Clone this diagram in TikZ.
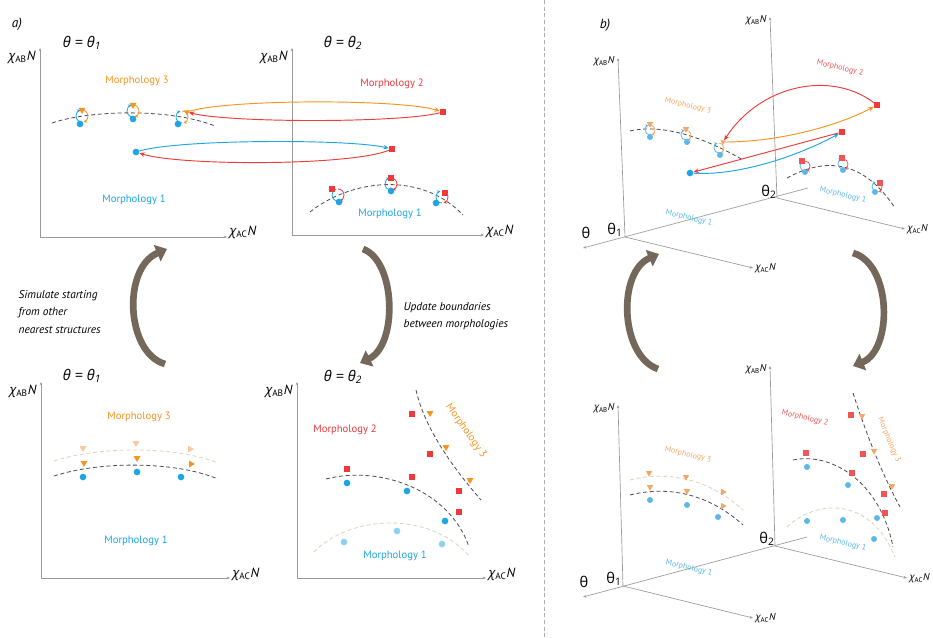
\documentclass[tikz,border=0pt]{standalone}
\usepackage{fontspec}
\setmainfont{PT Sans}
\newfontfamily\grk{Open Sans}
\usetikzlibrary{arrows.meta,shapes.geometric}

\definecolor{mblue}{HTML}{1DA5E5}
\definecolor{morange}{HTML}{F7931E}
\definecolor{mred}{HTML}{EE3A3A}
\definecolor{lblue}{HTML}{8ED2F2}
\definecolor{lorange}{HTML}{FAC89C}
\definecolor{beige}{HTML}{DCD3BE}
\definecolor{fblue}{HTML}{5CB8E8}
\definecolor{forange}{HTML}{F6A765}
\definecolor{fred}{HTML}{EF5555}
\definecolor{cyclebrown}{HTML}{74685A}
\definecolor{axisgray}{HTML}{9A9A9A}

\newcommand{\chiab}{{\grk\itshape χ}\textsubscript{AB}{\itshape N}}
\newcommand{\chiac}{{\grk\itshape χ}\textsubscript{AC}{\itshape N}}
% little exchange loop: centre x, centre y, radius, left colour, right colour
\newcommand{\swaploop}[5]{%
  \draw[#4, looparr] (#1,#2) ++(0,#3) arc[start angle=90, end angle=255, radius=#3];
  \draw[#5, looparr] (#1,#2) ++(0,-#3) arc[start angle=270, end angle=435, radius=#3];}

\begin{document}
\begin{tikzpicture}[x=0.75pt, y=-0.75pt,
      axis/.style={draw=axisgray, line width=0.5pt, -{Stealth[length=2.5pt,width=2pt]}},
      bound/.style={draw=black!70, dash pattern=on 3pt off 2pt, line width=0.6pt},
      ghost/.style={draw=beige, dash pattern=on 3pt off 2pt, line width=0.6pt},
      looparr/.style={line width=0.6pt, -{Stealth[length=2.5pt,width=2.5pt]}},
      arr/.style={line width=0.7pt, -{Stealth[length=4pt,width=3.5pt]}},
      cycle/.style={draw=cyclebrown, line width=5pt, -{Triangle[length=8pt,width=13pt]}},
      dotB/.style={circle, fill=mblue, inner sep=0pt, minimum size=5pt},
      dotL/.style={dotB, fill=lblue},
      dotF/.style={dotB, fill=fblue, minimum size=4.5pt},
      sqR/.style={rectangle, fill=mred, inner sep=0pt, minimum size=4.5pt},
      sqF/.style={sqR, fill=fred, minimum size=4pt},
      triO/.style={regular polygon, regular polygon sides=3, shape border rotate=180,
                   fill=morange, inner sep=0pt, minimum size=6pt},
      triL/.style={triO, fill=lorange},
      triF/.style={triO, fill=forange, minimum size=5.5pt},
      axlab/.style={font=\fontsize{10}{12}\selectfont, inner sep=1pt},
      axlabb/.style={font=\fontsize{7.5}{9}\selectfont, inner sep=1pt},
      thlab/.style={font=\grk\itshape\fontsize{11}{13}\selectfont},
      thlabb/.style={font=\grk\fontsize{11}{13}\selectfont, inner sep=1pt},
      m1/.style={font=\fontsize{8}{9}\selectfont, text=mblue},
      m2/.style={font=\fontsize{8}{9}\selectfont, text=mred},
      m3/.style={font=\fontsize{8}{9}\selectfont, text=morange},
      m1b/.style={font=\fontsize{6}{7}\selectfont, text=fblue},
      m2b/.style={font=\fontsize{6}{7}\selectfont, text=fred},
      m3b/.style={font=\fontsize{6}{7}\selectfont, text=forange},
      note/.style={font=\itshape\fontsize{8.5}{13}\selectfont, align=left}]

  \useasboundingbox (0,0) rectangle (933,638);
  \fill[white] (0,0) rectangle (933,638);

  % separator between a) and b)
  \draw[axisgray!80, dash pattern=on 3pt off 2pt] (544,0) -- (544,638);

  % ---------------- a) ----------------
  \node[font=\itshape\fontsize{10}{12}\selectfont] (labA) at (17,24) {a)};

  % top left plot, theta = theta_1
  \coordinate (oTL) at (40,237);
  \draw[axis] (oTL) -- (40,48);
  \draw[axis] (oTL) -- (227,237);
  \node[axlab, anchor=east] (yTL) at (37,57) {\chiab};
  \node[axlab, anchor=west] (xTL) at (228,232) {\chiac};
  \node[thlab] (thTL) at (82,43) {θ = θ\textsubscript{1}};
  \node[m3] (m3TL) at (137,81) {Morphology 3};
  \node[m1] (m1TL) at (134,200) {Morphology 1};
  \draw[bound] (52,123) .. controls (90,110) and (170,108) .. (215,126);
  \swaploop{82}{116}{6}{mblue}{morange}
  \swaploop{133}{111}{6}{mblue}{morange}
  \swaploop{182}{117}{6}{mblue}{morange}
  \node[dotB] (tl1) at (80,124) {};
  \node[dotB] (tl2) at (133,119) {};
  \node[dotB] (tl3) at (178,124) {};
  \node[triO] (tlt1) at (82,110) {};
  \node[triO] (tlt2) at (133,105) {};
  \node[triO, minimum size=5pt] (tlt3) at (187,112) {};

  % top right plot, theta = theta_2
  \coordinate (oTR) at (292,235);
  \draw[axis] (oTR) -- (292,48);
  \draw[axis] (oTR) -- (484,235);
  \node[axlab, anchor=east] (yTR) at (289,57) {\chiab};
  \node[axlab, anchor=west] (xTR) at (485,231) {\chiac};
  \node[thlab] (thTR) at (343,43) {θ = θ\textsubscript{2}};
  \node[m2] (m2TR) at (392,84) {Morphology 2};
  \node[m1] (m1TR) at (390,214) {Morphology 1};
  \draw[bound] (310,212) .. controls (350,180) and (420,170) .. (463,215);
  \swaploop{338}{195}{6}{mblue}{mred}
  \swaploop{391}{184}{6}{mblue}{mred}
  \swaploop{442}{197}{6}{mblue}{mred}
  \node[dotB] (tr1) at (339,202) {};
  \node[dotB] (tr2) at (391,191) {};
  \node[dotB] (tr3) at (436,203) {};
  \node[sqR] (trs1) at (332,189) {};
  \node[sqR] (trs2) at (391,178) {};
  \node[sqR] (trs3) at (445,193) {};

  % jumps between the two theta values
  \node[sqR] (sqA) at (443,112) {};
  \node[dotB] (dA) at (136,152) {};
  \node[sqR] (sqB) at (392,149) {};
  \draw[morange, arr] (tlt3) .. controls (230,99) and (400,99) .. (sqA);
  \draw[mred, arr] (sqA) .. controls (400,123) and (230,123) .. (tlt3);
  \draw[mblue, arr] (dA) .. controls (180,139) and (350,139) .. (sqB);
  \draw[mred, arr] (sqB) .. controls (350,166) and (180,166) .. (dA);

  % cycle arrows
  \draw[cycle] (165,364) .. controls (126,353) and (122,268) .. (167,249);
  \draw[cycle] (363,249) .. controls (396,261) and (398,345) .. (360,363);
  \node[note, anchor=west] (simtxt) at (14,312) {Simulate starting\\from other\\nearest structures};
  \node[note, anchor=west] (updtxt) at (399,316) {Update boundaries\\between morphologies};

  % bottom left plot
  \coordinate (oBL) at (41,578);
  \draw[axis] (oBL) -- (41,382);
  \draw[axis] (oBL) -- (230,578);
  \node[axlab, anchor=east] (yBL) at (38,391) {\chiab};
  \node[axlab, anchor=west] (xBL) at (231,574) {\chiac};
  \node[thlab] (thBL) at (82,376) {θ = θ\textsubscript{1}};
  \node[m3] (m3BL) at (139,417) {Morphology 3};
  \node[m1] (m1BL) at (136,541) {Morphology 1};
  \draw[ghost] (54,461) .. controls (100,446) and (175,446) .. (218,463);
  \draw[bound] (54,476) .. controls (100,461) and (175,461) .. (218,479);
  \node[triL] (blu1) at (83,448) {};
  \node[triL] (blu2) at (136,443) {};
  \node[triL, shape border rotate=-90] (blu3) at (190,449) {};
  \node[triO] (blt1) at (84,463) {};
  \node[triO] (blt2) at (137,458) {};
  \node[triO, shape border rotate=-90] (blt3) at (191,464) {};
  \node[dotB] (bl1) at (83,477) {};
  \node[dotB] (bl2) at (137,472) {};
  \node[dotB] (bl3) at (181,477) {};

  % bottom right plot
  \coordinate (oBR) at (297,578);
  \draw[axis] (oBR) -- (297,382);
  \draw[axis] (oBR) -- (486,578);
  \node[axlab, anchor=east] (yBR) at (294,391) {\chiab};
  \node[axlab, anchor=west] (xBR) at (487,574) {\chiac};
  \node[thlab] (thBR) at (343,377) {θ = θ\textsubscript{2}};
  \node[m2] (m2BR) at (345,430) {Morphology 2};
  \node[m3, rotate=-55] (m3BR) at (466,431) {Morphology 3};
  \node[m1] (m1BR) at (395,556) {Morphology 1};
  \draw[bound] (416,390) .. controls (425,430) and (455,470) .. (481,500);
  \draw[bound] (326,479) .. controls (380,465) and (450,490) .. (469,547);
  \draw[ghost] (314,552) .. controls (350,515) and (430,510) .. (470,557);
  \node[sqR] (brs1) at (412,414) {};
  \node[sqR] (brs2) at (430,454) {};
  \node[sqR] (brs3) at (347,469) {};
  \node[sqR] (brs4) at (412,477) {};
  \node[sqR] (brs5) at (459,491) {};
  \node[sqR] (brs6) at (459,512) {};
  \node[triO] (brt1) at (430,413) {};
  \node[triO] (brt2) at (446,447) {};
  \node[triO] (brt3) at (470,480) {};
  \node[dotB] (br1) at (347,483) {};
  \node[dotB] (br2) at (407,491) {};
  \node[dotB] (br3) at (445,521) {};
  \node[dotL] (brl1) at (344,542) {};
  \node[dotL] (brl2) at (397,531) {};
  \node[dotL] (brl3) at (442,544) {};

  % ---------------- b) ----------------
  \node[font=\itshape\fontsize{10}{12}\selectfont] (labB) at (605,25) {b)};

  % top: both theta planes
  \coordinate (fO) at (625,237);
  \coordinate (bO) at (777,198);
  \draw[axis] (808,188) -- (583,248);
  \draw[axis] (fO) -- (618,58);
  \draw[axis] (fO) -- (753,268);
  \draw[axis] (bO) -- (770,17);
  \draw[axis] (bO) -- (905,229);
  \node[axlabb, anchor=east] (yF) at (616,61) {\chiab};
  \node[axlabb, anchor=west] (xF) at (754,268) {\chiac};
  \node[axlabb, anchor=east] (yB) at (768,20) {\chiab};
  \node[axlabb, anchor=west] (xB) at (906,229) {\chiac};
  \node[thlabb] (thF) at (586,233) {θ};
  \node[thlabb] (th1F) at (615,230) {θ\textsubscript{1}};
  \node[thlabb] (th2B) at (769,192) {θ\textsubscript{2}};
  \node[m2b, rotate=-13] (m2bT) at (840,68) {Morphology 2};
  \node[m3b, rotate=-13] (m3bT) at (688,106) {Morphology 3};
  \node[m1b, rotate=-13] (m1bTf) at (689,218) {Morphology 1};
  \node[m1b, rotate=-13] (m1bTb) at (843,195) {Morphology 1};
  \draw[bound] (630,131) .. controls (660,124) and (700,135) .. (743,160);
  \swaploop{650}{130}{5}{fblue}{forange}
  \swaploop{686}{135}{5}{fblue}{forange}
  \swaploop{719}{148}{5}{fblue}{forange}
  \node[dotF] (bf1) at (650,137) {};
  \node[dotF] (bf2) at (687,142) {};
  \node[dotF] (bf3) at (720,155) {};
  \node[triF] (bft1) at (650,124) {};
  \node[triF] (bft2) at (686,129) {};
  \node[triF, minimum size=4.5pt] (bft3) at (723,142) {};
  \draw[bound] (787,178) .. controls (820,160) and (860,155) .. (895,208);
  \swaploop{805}{166}{5}{fblue}{fred}
  \swaploop{843}{164}{5}{fblue}{fred}
  \swaploop{877}{187}{5}{fblue}{fred}
  \node[dotF] (bb1) at (805,172) {};
  \node[dotF] (bb2) at (843,170) {};
  \node[dotF] (bb3) at (875,192) {};
  \node[sqF] (bbs1) at (802,161) {};
  \node[sqF] (bbs2) at (842,158) {};
  \node[sqF] (bbs3) at (880,183) {};
  \node[sqR] (r1) at (877,105) {};
  \node[sqR] (r2) at (842,132) {};
  \node[dotB] (d2) at (690,173) {};
  \draw[morange, arr] (bft3) .. controls (780,142) and (840,125) .. (r1);
  \draw[mred, arr] (r1) .. controls (830,70) and (760,85) .. (bft3);
  \draw[mred, arr] (r2) -- (d2);
  \draw[mblue, arr] (d2) .. controls (740,176) and (800,155) .. (r2);

  % cycle arrows
  \draw[cycle] (658,369) .. controls (620,356) and (617,272) .. (659,254);
  \draw[cycle] (853,253) .. controls (892,264) and (893,350) .. (853,366);

  % bottom: both theta planes
  \coordinate (fO2) at (623,586);
  \coordinate (bO2) at (775,546);
  \draw[axis] (807,537) -- (583,597);
  \draw[axis] (fO2) -- (618,405);
  \draw[axis] (fO2) -- (753,618);
  \draw[axis] (bO2) -- (770,366);
  \draw[axis] (bO2) -- (907,578);
  \node[axlabb, anchor=east] (yF2) at (616,408) {\chiab};
  \node[axlabb, anchor=west] (xF2) at (754,618) {\chiac};
  \node[axlabb, anchor=east] (yB2) at (768,369) {\chiab};
  \node[axlabb, anchor=west] (xB2) at (908,578) {\chiac};
  \node[thlabb] (thF2) at (584,582) {θ};
  \node[thlabb] (th1F2) at (614,579) {θ\textsubscript{1}};
  \node[thlabb] (th2B2) at (767,539) {θ\textsubscript{2}};
  \node[m3b, rotate=-13] (m3bBf) at (688,455) {Morphology 3};
  \node[m1b, rotate=-13] (m1bBf) at (689,568) {Morphology 1};
  \node[m2b, rotate=-13] (m2bBb) at (805,418) {Morphology 2};
  \node[m3b, rotate=-67] (m3bBb) at (889,440) {Morphology 3};
  \node[m1b, rotate=-13] (m1bBb) at (843,543) {Morphology 1};
  \draw[ghost] (630,480) .. controls (670,470) and (710,480) .. (743,510);
  \draw[bound] (630,495) .. controls (670,485) and (710,495) .. (743,525);
  \node[triF] (fu1) at (649,473) {};
  \node[triF] (fu2) at (686,477) {};
  \node[triF, shape border rotate=-90] (fu3) at (723,492) {};
  \node[triF] (fl1) at (650,487) {};
  \node[triF] (fl2) at (687,491) {};
  \node[triF, shape border rotate=-90] (fl3) at (723,506) {};
  \node[dotF] (fd1) at (650,500) {};
  \node[dotF] (fd2) at (687,505) {};
  \node[dotF] (fd3) at (718,517) {};
  \draw[bound] (853,393) .. controls (865,430) and (880,470) .. (900,507);
  \draw[bound] (793,460) .. controls (830,452) and (880,480) .. (893,547);
  \draw[ghost] (787,527) .. controls (815,500) and (870,495) .. (895,557);
  \node[sqF] (bs1) at (851,415) {};
  \node[sqF] (bs2) at (863,454) {};
  \node[sqF] (bs3) at (806,453) {};
  \node[sqF] (bs4) at (852,473) {};
  \node[sqF] (bs5) at (884,494) {};
  \node[sqF] (bs6) at (885,513) {};
  \node[triF] (bt1) at (862,416) {};
  \node[triF] (bt2) at (874,451) {};
  \node[triF] (bt3) at (892,486) {};
  \node[dotF] (bd1) at (807,467) {};
  \node[dotF] (bd2) at (848,485) {};
  \node[dotF] (bd3) at (877,518) {};
  \node[dotF] (bd4) at (807,521) {};
  \node[dotF] (bd5) at (843,520) {};
  \node[dotF] (bd6) at (874,539) {};
\end{tikzpicture}
\end{document}
